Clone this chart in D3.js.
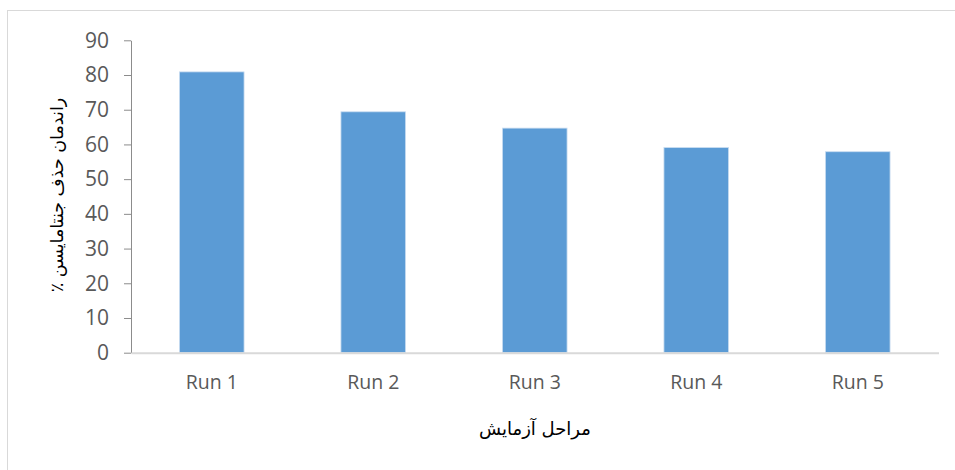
<!DOCTYPE html>
<html>
<head>
<meta charset="utf-8">
<script src="https://cdn.jsdelivr.net/npm/d3@7/dist/d3.min.js"></script>
<style>
  html, body { margin: 0; padding: 0; background: #fff; }
  svg { display: block; }
</style>
</head>
<body>
<svg id="chart" width="955" height="470"></svg>
<script>
// Removal efficiency per test run
const categories = ["Run 1", "Run 2", "Run 3", "Run 4", "Run 5"];
const values = [80.9, 69.4, 64.7, 59.1, 57.9];
const yTicks = [0, 10, 20, 30, 40, 50, 60, 70, 80, 90];
const xTitle = "مراحل آزمایش";
const yTitle = "راندمان حذف جنتامایسن ٪";

const svg = d3.select("#chart");
const plot = { left: 131, right: 938.5, top: 40.3, bottom: 352.7 };

// Chart area frame (runs off the right and bottom edges)
svg.append("rect")
  .attr("x", 7.5).attr("y", 10.5)
  .attr("width", 960).attr("height", 470)
  .attr("fill", "#fff")
  .attr("stroke", "#d9d9d9").attr("stroke-width", 1);

const x = d3.scaleBand()
  .domain(categories)
  .range([plot.left, plot.right])
  .paddingInner(0.6)
  .paddingOuter(0.3);

const y = d3.scaleLinear()
  .domain([0, 90])
  .range([plot.bottom, plot.top]);

const fontNum = "'Open Sans', 'DejaVu Sans', sans-serif";

// Bars
svg.append("g")
  .selectAll("rect")
  .data(categories.map((c, i) => ({ c, v: values[i] })))
  .join("rect")
  .attr("x", d => x(d.c))
  .attr("y", d => y(d.v))
  .attr("width", x.bandwidth())
  .attr("height", d => y(0) - y(d.v))
  .attr("fill", "#5b9bd5")
  .attr("stroke", "#c9dcf0")
  .attr("stroke-width", 0.8);

// Y axis
const yAxis = svg.append("g")
  .attr("transform", `translate(${plot.left},0)`)
  .call(d3.axisLeft(y).tickValues(yTicks).tickSize(7).tickSizeOuter(0).tickPadding(15));
yAxis.select(".domain").attr("stroke", "#8c8c8c");
yAxis.selectAll(".tick line").attr("stroke", "#8c8c8c");
yAxis.selectAll(".tick text")
  .attr("fill", "#595959")
  .style("font-family", fontNum)
  .style("font-size", "21px");

// X axis
const xAxis = svg.append("g")
  .attr("transform", `translate(0,${plot.bottom})`)
  .call(d3.axisBottom(x).tickSize(0).tickSizeOuter(0).tickPadding(22));
xAxis.select(".domain").attr("stroke", "#d9d9d9").attr("stroke-width", 2);
xAxis.selectAll(".tick text")
  .attr("fill", "#595959")
  .style("font-family", fontNum)
  .style("font-size", "19.5px");

// Axis titles
svg.append("text")
  .attr("x", 535).attr("y", 435)
  .attr("text-anchor", "middle")
  .attr("direction", "rtl")
  .attr("fill", "#000")
  .style("font-family", "'DejaVu Sans', sans-serif")
  .style("font-size", "18px")
  .text(xTitle);

svg.append("text")
  .attr("transform", "translate(63,195) rotate(-90)")
  .attr("text-anchor", "middle")
  .attr("direction", "rtl")
  .attr("fill", "#000")
  .style("font-family", "'DejaVu Sans', sans-serif")
  .style("font-size", "17.5px")
  .text(yTitle);
</script>
</body>
</html>
